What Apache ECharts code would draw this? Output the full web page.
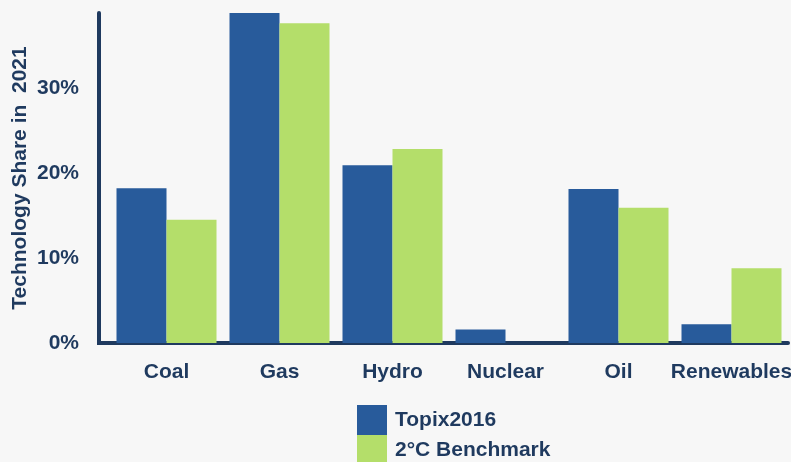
<!DOCTYPE html>
<html>
<head>
<meta charset="utf-8">
<script src="https://cdn.jsdelivr.net/npm/echarts@6/dist/echarts.min.js"></script>
<style>
  html, body { margin: 0; padding: 0; background: #f7f7f7; }
  #chart { width: 791px; height: 462px; }
</style>
</head>
<body>
<div id="chart"></div>
<script>
const categories = ['Coal', 'Gas', 'Hydro', 'Nuclear', 'Oil', 'Renewables']
const topix = [18.2, 38.8, 20.9, 1.6, 18.1, 2.2]
const benchmark = [14.5, 37.6, 22.8, 0, 15.9, 8.8]
const seriesNames = ['Topix2016', '2°C Benchmark']

const navy = '#1f3a5f'
const font = 'Liberation Sans, Arial, sans-serif'

let chart = echarts.init(document.getElementById('chart'))
chart.setOption({
  backgroundColor: '#f7f7f7',
  animation: false,
  textStyle: { fontFamily: font },
  grid: { left: 110, right: 3, top: 13, bottom: 119, outerBoundsMode: 'none' },
  legend: {
    orient: 'vertical',
    left: 357,
    top: 405,
    height: 120,
    padding: 0,
    itemWidth: 30,
    itemHeight: 30,
    itemGap: 0,
    icon: 'rect',
    textStyle: { fontSize: 21, fontWeight: 'bold', color: navy, fontFamily: font, padding: [0, 0, 0, 3] },
    data: seriesNames
  },
  xAxis: {
    type: 'category',
    data: categories,
    axisLine: { lineStyle: { color: navy, width: 4 } },
    axisTick: { show: false },
    axisLabel: { fontSize: 21, fontWeight: 'bold', color: navy, margin: 19, interval: 0, fontFamily: font }
  },
  yAxis: {
    type: 'value',
    min: 0,
    max: 38.8,
    interval: 10,
    offset: 11,
    name: 'Technology Share in  2021',
    nameLocation: 'middle',
    nameGap: 68,
    nameMoveOverlap: false,
    nameTextStyle: { fontSize: 21, fontWeight: 'bold', color: navy, fontFamily: font },
    axisLine: { show: true, lineStyle: { color: navy, width: 4 } },
    axisTick: { show: false },
    splitLine: { show: false },
    axisLabel: {
      fontSize: 21, fontWeight: 'bold', color: navy, margin: 20, fontFamily: font,
      showMaxLabel: false,
      padding: [4, 0, 0, 0],
      formatter: v => v + '%'
    }
  },
  graphic: [
    { type: 'rect', left: 97, top: 341, shape: { width: 14, height: 4 }, style: { fill: navy } }
  ],
  series: [
    {
      name: seriesNames[0],
      type: 'bar',
      data: topix,
      barGap: '0%',
      barCategoryGap: '11.5%',
      itemStyle: { color: '#285b9b' }
    },
    {
      name: seriesNames[1],
      type: 'bar',
      data: benchmark,
      itemStyle: { color: '#b4de6a' }
    }
  ]
})
</script>
</body>
</html>
